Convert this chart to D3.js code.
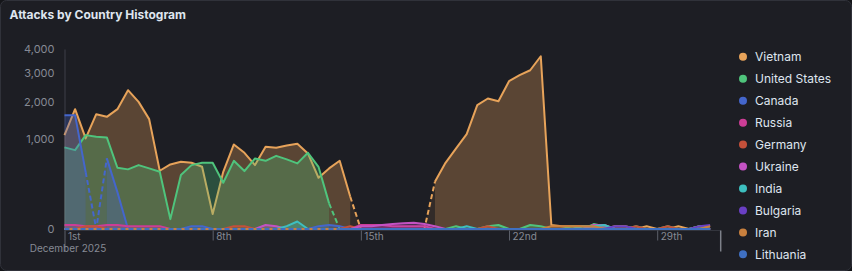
<!DOCTYPE html>
<html>
<head>
<meta charset="utf-8">
<script src="https://cdn.jsdelivr.net/npm/d3@7/dist/d3.min.js"></script>
<style>
  html, body { margin: 0; padding: 0; background: #141519; }
  svg { display: block; }
  text { font-family: Inter, "Noto Sans", sans-serif; }
</style>
</head>
<body>
<svg id="chart" width="852" height="271"></svg>
<script>
// ---------------- DATA ----------------
const title = "Attacks by Country Histogram";
const startDate = Date.UTC(2025, 11, 1);   // 1 Dec 2025
const endDate = Date.UTC(2026, 0, 1);      // 1 Jan 2026
const bucketHours = 12;
const countries = ["Vietnam","United States","Canada","Russia","Germany","Ukraine","India","Bulgaria","Iran","Lithuania"];
const colors = ["#E7A35A","#4FC47C","#4466CC","#CC3D96","#C4503A","#C352C3","#3DBFBF","#6A3FC4","#C9803E","#3F70C2"];
const N = null;

const vietnam = [1088,1773,1012,1628,1553,1773,2379,1995,1490,419,
                 515,558,542,478,28,404,883,717,504,834,
                 814,862,896,705,324,453,574,128,N,N,
                 N,N,N,N,N,275,541,801,1111,1893,
                 2103,2017,2697,2920,3112,3685,2,1,1,1,
                 1,0,1,1,0,1,0,0,1,0,
                 1,1];
const unitedStates = [822,768,1088,1049,1035,463,439,504,454,404,
                      12,359,504,542,542,264,574,414,615,574,
                      661,598,531,717,478,81,N,N,N,N,
                      N,N,N,N,N,N,0,1,0,0,
                      1,2,0,0,2,1,0,0,1,0,
                      3,1,0,0,1,0,0,1,0,0,
                      1,0];
const canada = [1600,1600,400,N,615,168,0,0,0,0,
                0,0,1,1,0,0,0,0,0,0,
                0,0,0,0,1,2,1,0,0,0,
                0,0,0,0,0,0,0,0,0,0,
                0,0,0,0,0,0,0,0,0,0,
                0,0,0,0,0,0,0,0,0,0,
                0,0];
const russia = [2,2,1,1,2,2,1,1,1,1,
                0,0,0,0,0,0,0,0,0,0,
                0,0,0,0,0,0,0,0,2,2,
                2,1,1,1,1,0,0,0,0,0,
                0,0,0,0,0,0,0,0,0,0,
                1,1,0,0,0,0,0,0,0,0,
                0,0];
const germany = [0,0,1,1,0,0,0,0,0,0,
                 0,0,0,0,0,0,1,1,0,0,
                 0,0,0,0,0,0,0,1,0,0,
                 0,0,0,0,0,0,0,0,0,0,
                 1,0,0,0,0,0,0,0,0,0,
                 2,2,0,0,1,0,0,1,0,0,
                 0,0];
const ukraine = [0,0,0,0,0,0,0,0,0,0,
                 0,0,0,0,0,0,0,0,0,2,
                 1,0,0,0,0,0,0,0,1,1,
                 2,3,4,5,3,1,0,0,0,0,
                 0,0,0,0,0,0,0,0,0,0,
                 2,2,0,0,0,0,0,0,0,0,
                 0,0];
const india = [0,0,0,0,0,0,0,0,0,0,
               0,0,0,0,0,0,0,0,0,0,
               0,1,7,0,0,0,0,0,0,0,
               0,0,0,0,0,0,0,0,1,0,
               0,0,0,0,0,0,0,0,0,1,
               1,2,0,0,0,0,0,0,0,0,
               0,0];
const bulgaria = [0,0,0,0,0,0,0,0,0,0,
                  0,0,0,0,0,0,0,0,0,0,
                  0,0,0,0,0,0,0,0,0,0,
                  0,0,0,0,0,0,0,0,0,0,
                  0,0,0,0,0,0,0,0,0,0,
                  0,0,1,1,0,0,0,0,0,0,
                  1,2];
const iran = [0,0,0,0,0,0,0,0,0,0,
              0,0,0,0,0,0,0,0,0,0,
              0,0,0,0,0,0,0,0,0,0,
              0,0,0,0,0,0,0,0,0,0,
              0,0,0,0,0,0,1,1,1,1,
              1,0,0,0,0,0,0,0,0,0,
              0,1];
const lithuania = [0,N,N,N,N,N,N,N,N,N,
                   N,N,N,N,N,N,N,N,N,N,
                   N,N,N,N,N,N,0,0,0,0,
                   0,0,0,0,0,0,0,0,0,0,
                   0,0,0,0,0,0,0,0,0,0,
                   0,0,0,0,0,0,0,0,0,0,
                   0,0];
const seriesValues = [vietnam, unitedStates, canada, russia, germany, ukraine, india, bulgaria, iran, lithuania];

const yTicks = [0, 1000, 2000, 3000, 4000];
const xTickDates = [Date.UTC(2025,11,1), Date.UTC(2025,11,8), Date.UTC(2025,11,15), Date.UTC(2025,11,22), Date.UTC(2025,11,29)];
const xTickLabels = ["1st", "8th", "15th", "22nd", "29th"];
const xSubLabel = "December 2025";

// ---------------- LAYOUT ----------------
const svg = d3.select("#chart");
const W = 852, H = 271;
const plot = { left: 64.5, right: 720.7, top: 49, bottom: 229 };

svg.append("rect").attr("x", 0.5).attr("y", 0.5).attr("width", W - 1).attr("height", H - 1)
  .attr("rx", 6).attr("fill", "#1d1e24").attr("stroke", "#30323a");

svg.append("text").attr("x", 9.5).attr("y", 18.5).text(title)
  .attr("fill", "#dfe5ef").attr("font-size", 12).attr("font-weight", 700);

const x = d3.scaleUtc().domain([new Date(startDate), new Date(endDate)]).range([plot.left, plot.right]);
const y = d3.scaleSqrt().domain([0, 4000]).range([plot.bottom, plot.top]);

const bucketDate = i => new Date(startDate + i * bucketHours * 3600 * 1000);

// y axis
const yAxis = svg.append("g").attr("transform", `translate(${plot.left},0)`)
  .call(d3.axisLeft(y).tickValues(yTicks).tickFormat(d3.format(",")).tickSize(0).tickPadding(10));
yAxis.select(".domain").attr("stroke", "#33353d").attr("stroke-width", 1.5);
yAxis.selectAll("text").attr("fill", "#868a94").attr("font-size", 11).attr("font-family", "Inter, sans-serif");

// x axis
const xAxisG = svg.append("g").attr("transform", `translate(0,${plot.bottom + 1.5})`)
  .call(d3.axisBottom(x).tickValues(xTickDates.map(d => new Date(d)))
    .tickFormat((d, i) => xTickLabels[i]).tickSize(10).tickPadding(0));
xAxisG.select(".domain").attr("stroke", "#33353d").attr("stroke-width", 1).attr("d", `M${plot.left},0H${plot.right}`);
xAxisG.selectAll(".tick line").attr("stroke", "#5d616b").attr("stroke-width", 1)
  .attr("y2", (d, i) => i === 0 ? 21 : 10);
xAxisG.selectAll(".tick text").attr("fill", "#868a94").attr("font-size", 10)
  .attr("font-family", "Inter, sans-serif")
  .attr("text-anchor", "start").attr("x", 3).attr("y", 9.5).attr("dy", 0);
xAxisG.select(".tick").append("text").text(xSubLabel)
  .attr("fill", "#868a94").attr("font-size", 10).attr("font-family", "Inter, sans-serif")
  .attr("x", 3).attr("y", 21.8);
// end marker of time axis
xAxisG.append("line").attr("x1", plot.right).attr("x2", plot.right).attr("y1", 0).attr("y2", 21)
  .attr("stroke", "#7d818a").attr("stroke-width", 1.5);

// ---------------- SERIES ----------------
const gMarks = svg.append("g");
const area = d3.area().x(d => x(d.t)).y0(y(0)).y1(d => y(d.v));
const line = d3.line().x(d => x(d.t)).y(d => y(d.v));

seriesValues.forEach((vals, si) => {
  const color = colors[si];
  const pts = vals.map((v, i) => ({ t: bucketDate(i), v: v }));
  const g = gMarks.append("g");

  // fitted (zero) gaps between defined points
  const defIdx = vals.map((v, i) => v != null ? i : -1).filter(i => i >= 0);
  const fits = [];
  for (let k = 0; k < defIdx.length - 1; k++) {
    const a = defIdx[k], b = defIdx[k + 1];
    if (b - a > 1) {
      const seg = [{ t: bucketDate(a), v: vals[a] }];
      for (let j = a + 1; j < b; j++) seg.push({ t: bucketDate(j), v: 0 });
      seg.push({ t: bucketDate(b), v: vals[b] });
      fits.push(seg);
    }
  }
  fits.forEach(seg => {
    g.append("path").attr("d", area(seg)).attr("fill", color).attr("fill-opacity", 0.1);
  });
  g.append("path").attr("d", area.defined(d => d.v != null)(pts))
    .attr("fill", color).attr("fill-opacity", 0.3);
  area.defined(() => true);
  fits.forEach(seg => {
    g.append("path").attr("d", line(seg)).attr("fill", "none").attr("stroke", color)
      .attr("stroke-width", 2).attr("stroke-dasharray", "5,3");
  });
  g.append("path").attr("d", line.defined(d => d.v != null)(pts))
    .attr("fill", "none").attr("stroke", color).attr("stroke-width", 2)
    .attr("stroke-linejoin", "round");
  line.defined(() => true);
});

// ---------------- LEGEND ----------------
const legend = svg.append("g");
countries.forEach((c, i) => {
  const cy = 56.8 + i * 21.95;
  legend.append("circle").attr("cx", 743).attr("cy", cy).attr("r", 4).attr("fill", colors[i]);
  legend.append("text").attr("x", 755).attr("y", cy).attr("dy", "0.35em").text(c)
    .attr("fill", "#dfe5ef").attr("font-size", 12);
});
</script>
</body>
</html>
